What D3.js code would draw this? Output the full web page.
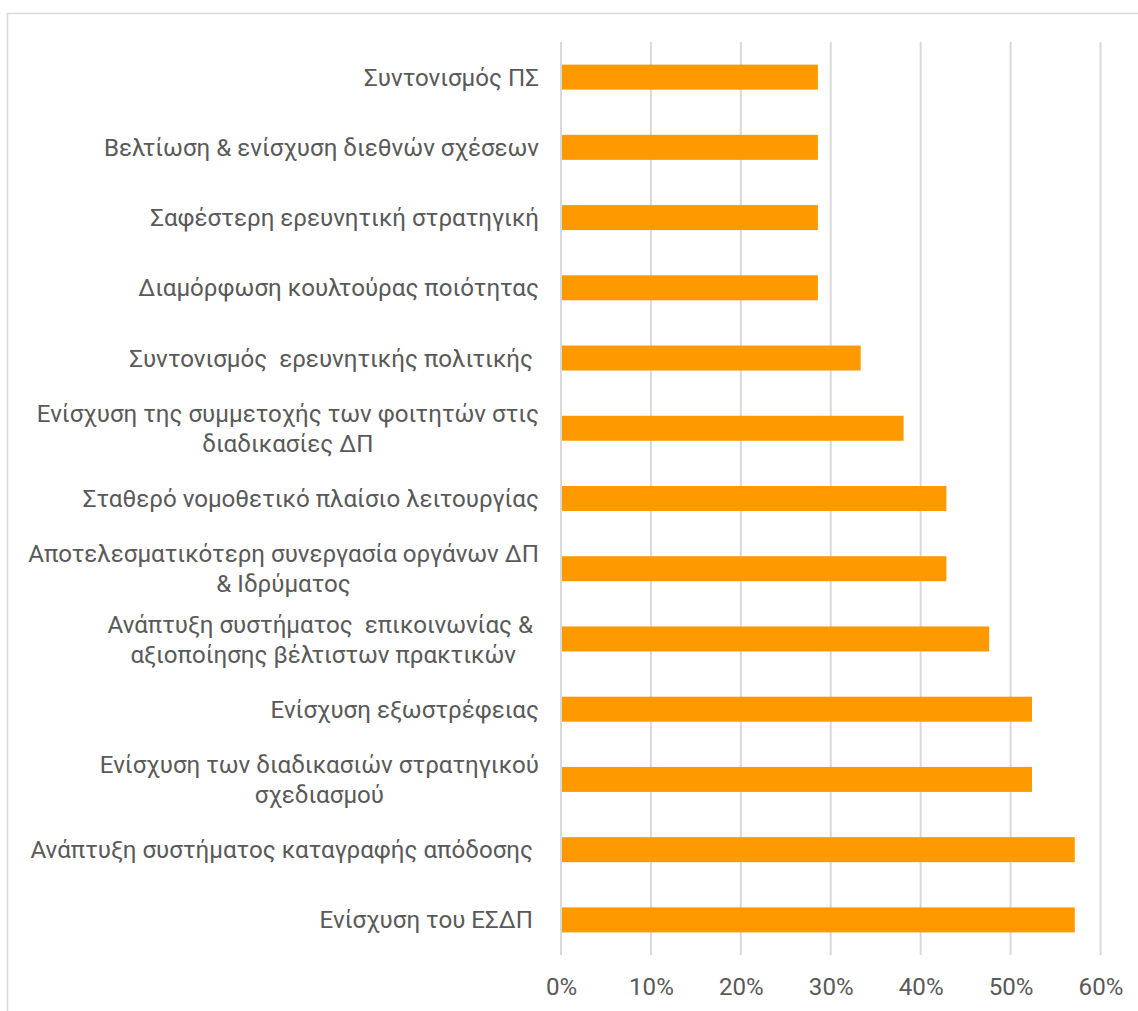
<!DOCTYPE html>
<html><head><meta charset="utf-8">
<script src="https://cdn.jsdelivr.net/npm/d3@7"></script>
<style>
html,body{margin:0;padding:0;background:#fff;}
svg{display:block;font-family:Roboto,"Open Sans",sans-serif;}
text{white-space:pre;}
</style>
</head><body>
<svg id="c" width="1138" height="1011"></svg>
<script>
const categories = [
  "Συντονισμός ΠΣ",
  "Βελτίωση & ενίσχυση διεθνών σχέσεων",
  "Σαφέστερη ερευνητική στρατηγική",
  "Διαμόρφωση κουλτούρας ποιότητας",
  "Συντονισμός  ερευνητικής πολιτικής ",
  "Ενίσχυση της συμμετοχής των φοιτητών στις\nδιαδικασίες ΔΠ",
  "Σταθερό νομοθετικό πλαίσιο λειτουργίας",
  "Αποτελεσματικότερη συνεργασία οργάνων ΔΠ\n& Ιδρύματος",
  "Ανάπτυξη συστήματος  επικοινωνίας & \nαξιοποίησης βέλτιστων πρακτικών",
  "Ενίσχυση εξωστρέφειας",
  "Ενίσχυση των διαδικασιών στρατηγικού\nσχεδιασμού",
  "Ανάπτυξη συστήματος καταγραφής απόδοσης ",
  "Ενίσχυση του ΕΣΔΠ "
];
const values = [28.57, 28.57, 28.57, 28.57, 33.33, 38.10, 42.86, 42.86, 47.62, 52.38, 52.38, 57.14, 57.14];
const xTicks = [0, 10, 20, 30, 40, 50, 60];
const xTickLabels = ["0%", "10%", "20%", "30%", "40%", "50%", "60%"];

const svg = d3.select("#c");
const textColor = "#595959";
const gridColor = "#d9d9d9";
const barColor = "#ff9900";

// outer chart frame
svg.append("rect")
  .attr("x", 7.5).attr("y", 13.5)
  .attr("width", 1400).attr("height", 1300)
  .attr("fill", "none").attr("stroke", gridColor).attr("stroke-width", 1.5);

const x = d3.scaleLinear().domain([0, 60]).range([561, 1100.5]);
const y = d3.scaleBand().domain(categories).range([42, 955])
  .paddingInner(0.644).paddingOuter(0.322);

// fit font size to reference label width
const probe = svg.append("text").attr("font-size", 22).text("Αποτελεσματικότερη συνεργασία οργάνων ΔΠ");
let fs = 22 * 511 / probe.node().getComputedTextLength();
fs = Math.max(19, Math.min(25, fs));
probe.remove();

// gridlines
svg.append("g").selectAll("line").data(xTicks).join("line")
  .attr("x1", d => x(d)).attr("x2", d => x(d))
  .attr("y1", 42).attr("y2", 955)
  .attr("stroke", gridColor).attr("stroke-width", 2);

// bars
svg.append("g").selectAll("rect").data(categories).join("rect")
  .attr("x", x(0) + 1)
  .attr("y", d => y(d))
  .attr("width", (d, i) => x(values[i]) - x(0) - 1)
  .attr("height", y.bandwidth())
  .attr("fill", barColor);

// x axis labels
const ax = svg.append("g").attr("transform", "translate(0,995)")
  .call(d3.axisBottom(x).tickValues(xTicks).tickFormat((d, i) => xTickLabels[i]).tickSize(0).tickPadding(0));
ax.select(".domain").remove();
ax.selectAll("text").attr("y", 0).attr("dy", null)
  .attr("font-family", "Roboto, 'Open Sans', sans-serif")
  .attr("font-size", fs).attr("fill", textColor);

// category labels
const capH = 0.711 * fs;
const lineH = 30;
const rightEdge = 539;
const lg = svg.append("g").attr("font-size", fs).attr("fill", textColor);
categories.forEach(c => {
  const lines = c.split("\n");
  const cy = y(c) + y.bandwidth() / 2;
  const nodes = lines.map((ln, i) => lg.append("text")
    .attr("text-anchor", "middle")
    .attr("y", cy + (i - (lines.length - 1) / 2) * lineH + capH / 2)
    .text(ln));
  const maxW = d3.max(nodes, n => n.node().getComputedTextLength());
  nodes.forEach(n => n.attr("x", rightEdge - maxW / 2));
});
</script>
</body></html>
